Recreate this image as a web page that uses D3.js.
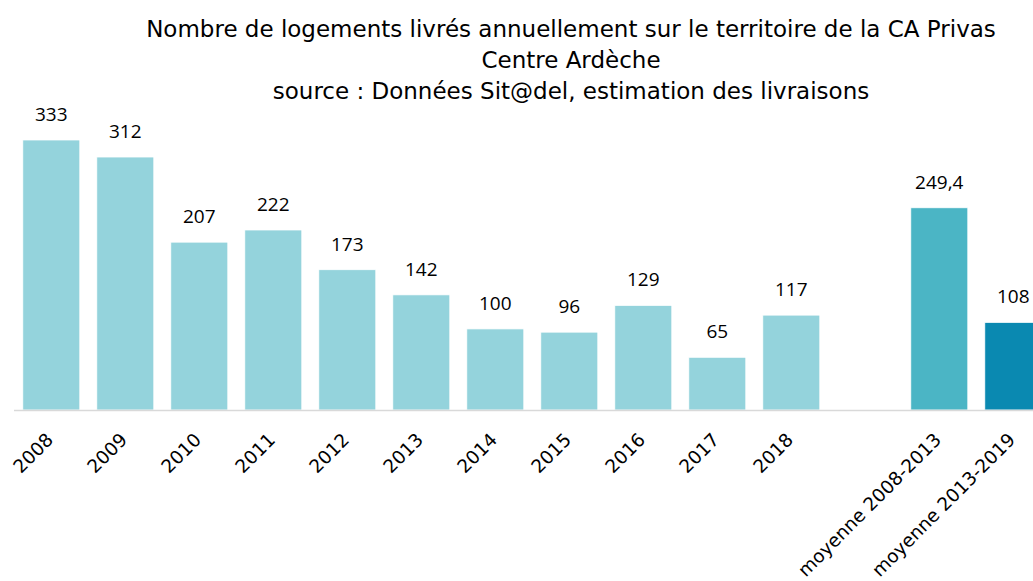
<!DOCTYPE html>
<meta charset="utf-8">
<style>
    body { margin: 0; background: #fff; }
    text { font-family: "Open Sans", sans-serif; fill: #000; }
    .title { font-family: "DejaVu Sans", sans-serif; font-size: 23px; }
    .label { font-size: 19px; }
    .tick text { font-family: "DejaVu Sans", sans-serif; font-size: 18.5px; }
</style>
<svg id="chart"></svg>
<script src="https://d3js.org/d3.v7.min.js"></script>
<script>
    const categories = ["2008", "2009", "2010", "2011", "2012", "2013", "2014", "2015", "2016", "2017", "2018", "", "moyenne 2008-2013", "moyenne 2013-2019"];
    const values = [333, 312, 207, 222, 173, 142, 100, 96, 129, 65, 117, null, 249.4, 108];
    const barColors = ["#94d3dc", "#94d3dc", "#94d3dc", "#94d3dc", "#94d3dc", "#94d3dc", "#94d3dc", "#94d3dc", "#94d3dc", "#94d3dc", "#94d3dc", "#94d3dc", "#4bb5c5", "#0a89b1"];
    const titleLines = [
        "Nombre de logements livrés annuellement sur le territoire de la CA Privas",
        "Centre Ardèche",
        "source : Données Sit@del, estimation des livraisons"
    ];

    const width = 1033;
    const height = 581;
    const baseline = 410;

    const svg = d3.select("#chart")
        .attr("width", width)
        .attr("height", height);

    const x = d3.scaleBand()
        .domain(d3.range(categories.length))
        .range([14.3, 14.3 + 74 * categories.length])
        .paddingInner(0.23)
        .paddingOuter(0.115);

    const y = d3.scaleLinear()
        .domain([0, 333])
        .range([baseline, 140]);

    // title
    svg.append("g")
        .selectAll("text")
        .data(titleLines)
        .enter().append("text")
        .attr("class", "title")
        .attr("x", 571)
        .attr("y", function (d, i) { return 37 + i * 31; })
        .attr("text-anchor", "middle")
        .text(function (d) { return d; });

    const data = values.map(function (v, i) { return { i: i, v: v }; })
        .filter(function (d) { return d.v !== null; });

    svg.append("g")
        .selectAll("rect")
        .data(data)
        .enter().append("rect")
        .attr("x", function (d) { return x(d.i); })
        .attr("width", x.bandwidth())
        .attr("y", function (d) { return y(d.v); })
        .attr("height", function (d) { return y(0) - y(d.v); })
        .attr("fill", function (d) { return barColors[d.i]; })
        .attr("stroke", "#fff")
        .attr("stroke-width", 0.75);

    svg.append("g")
        .selectAll("text")
        .data(data)
        .enter().append("text")
        .attr("class", "label")
        .attr("x", function (d) { return x(d.i) + x.bandwidth() / 2; })
        .attr("y", function (d) { return y(d.v) - 19; })
        .attr("text-anchor", "middle")
        .text(function (d) { return String(d.v).replace(".", ","); });

    // x axis
    const axis = svg.append("g")
        .attr("transform", "translate(0," + baseline + ")")
        .call(d3.axisBottom(x).tickSize(0).tickFormat(function (i) { return categories[i]; }));

    axis.select(".domain")
        .attr("d", "M14," + 0.5 + "H" + width)
        .attr("stroke", "#d9d9d9")
        .attr("stroke-width", 1.5);

    axis.selectAll(".tick text")
        .attr("text-anchor", "end")
        .attr("dy", 0)
        .attr("y", 0)
        .attr("transform", "translate(3,31) rotate(-45)");
</script>
